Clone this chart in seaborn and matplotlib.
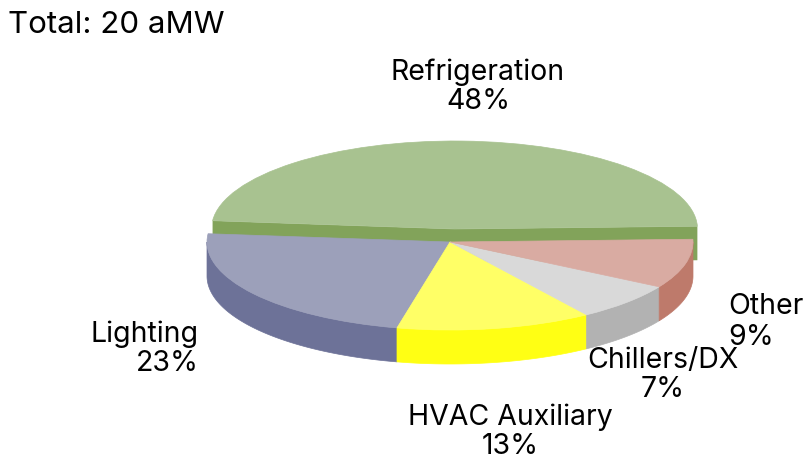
import numpy as np
import matplotlib
matplotlib.use("Agg")
import matplotlib.pyplot as plt
import seaborn as sns

# shares, in drawing order (counter-clockwise from the right)
labels = ["Refrigeration", "Lighting", "HVAC Auxiliary", "Chillers/DX", "Other"]
shares = [48, 23, 13, 7, 9]
title = "Total: 20 aMW"

top_colours = ["#A8C290", "#9CA0BA", "#FFFF66", "#D9D9D9", "#D9ABA2"]
side_colours = ["#82A35A", "#6D7298", "#FFFF14", "#B2B2B2", "#BE7A6B"]

W, H = 809, 459
CX, CY = 450, 242      # pie centre in pixels
RX, RY = 243, 88       # ellipse radii in pixels
DEPTH = 34 / RY
START = 1.8
SHIFT = (4.5 / RX, 13 / RY)  # Refrigeration sits behind, pulled away

sns.set_theme(style="white")
plt.rcParams["font.family"] = ["Inter", "DejaVu Sans"]

fig = plt.figure(figsize=(W / 100, H / 100), dpi=100)
ax = fig.add_axes([0, 0, 1, 1])

wedges, _ = ax.pie(shares, colors=top_colours, startangle=START, counterclock=True)
ax.set_aspect("auto")
ax.set_xlim(-CX / RX, (W - CX) / RX)
ax.set_ylim((CY - H) / RY, CY / RY)

edges = START + np.cumsum([0] + shares) * 3.6

# cut face of the pulled-out slice
a0, a1 = np.radians(edges[0]), np.radians(edges[1])
xs = np.array([np.cos(a0), 0, np.cos(a1)]) + SHIFT[0]
ys = np.array([np.sin(a0), 0, np.sin(a1)]) + SHIFT[1]
ax.fill(np.r_[xs, xs[::-1]], np.r_[ys, ys[::-1] - DEPTH], color=side_colours[0], lw=0, zorder=1)
wedges[0].set_center(SHIFT)
wedges[0].set_zorder(2)

# outer walls of the other slices, front half only
for i in range(1, len(shares)):
    lo, hi = max(edges[i], 180), min(edges[i + 1], 360)
    th = np.radians(np.linspace(lo, hi, 80))
    ax.fill(np.r_[np.cos(th), np.cos(th)[::-1]],
            np.r_[np.sin(th), np.sin(th)[::-1] - DEPTH],
            color=side_colours[i], lw=0.5, zorder=3)
    wedges[i].set_zorder(4)

# thin edge in the slice's own colour hides the seams between slices
for w, c in zip(wedges, top_colours):
    w.set_edgecolor(c)
    w.set_linewidth(0.5)

FS = 20.5


def put(x, y, s, size=FS, spacing=1.08, **kw):
    fig.text(x / W, 1 - y / H, s, fontsize=size, color="black", va="center", linespacing=spacing, **kw)


put(8, 25, title, size=22.5, ha="left")
put(478, 87, f"{labels[0]}\n{shares[0]}%", ha="center", multialignment="center")
put(199, 349, f"{labels[1]}\n{shares[1]}%", ha="right", multialignment="right")
put(510, 432, f"{labels[2]}\n{shares[2]}%", ha="center", multialignment="center")
put(663, 375, f"{labels[3]}\n{shares[3]}%", ha="center", multialignment="center")
put(728, 322, f"{labels[4]}\n{shares[4]}%", spacing=1.2, ha="left", multialignment="left")

fig.savefig("out.png", dpi=100)
